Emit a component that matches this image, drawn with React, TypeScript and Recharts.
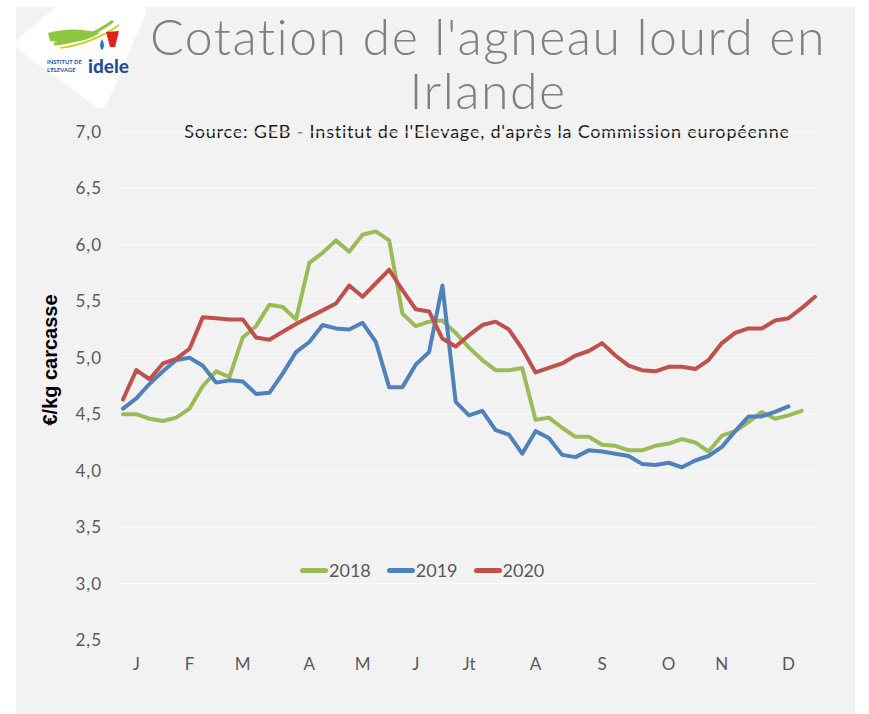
import { LineChart, Line, XAxis, YAxis, CartesianGrid } from 'recharts';

const weeks = [
  1, 2, 3, 4, 5, 6, 7, 8, 9, 10, 11, 12, 13, 14, 15, 16, 17, 18, 19, 20, 21, 22, 23, 24, 25, 26,
  27, 28, 29, 30, 31, 32, 33, 34, 35, 36, 37, 38, 39, 40, 41, 42, 43, 44, 45, 46, 47, 48, 49, 50,
  51, 52, 53,
];

const monthLabels = ['J', 'F', 'M', 'A', 'M', 'J', 'Jt', 'A', 'S', 'O', 'N', 'D'];
const monthTickWeeks = [2, 6, 10, 15, 19, 23, 27, 32, 37, 42, 46, 51];

const yTicks = [2.5, 3.0, 3.5, 4.0, 4.5, 5.0, 5.5, 6.0, 6.5, 7.0];

const cotation2018 = [
  4.5, 4.5, 4.46, 4.44, 4.47, 4.55, 4.75, 4.88, 4.83, 5.18, 5.28, 5.47, 5.45, 5.34, 5.84, 5.93,
  6.04, 5.94, 6.09, 6.12, 6.04, 5.39, 5.28, 5.32, 5.33, 5.22, 5.09, 4.98, 4.89, 4.89, 4.91, 4.45,
  4.47, 4.38, 4.3, 4.3, 4.23, 4.22, 4.18, 4.18, 4.22, 4.24, 4.28, 4.25, 4.17, 4.31, 4.35, 4.43,
  4.52, 4.46, 4.49, 4.53,
];

const cotation2019 = [
  4.55, 4.64, 4.77, 4.88, 4.98, 5.0, 4.93, 4.78, 4.8, 4.79, 4.68, 4.69, 4.86, 5.05, 5.14, 5.29,
  5.26, 5.25, 5.31, 5.14, 4.74, 4.74, 4.94, 5.05, 5.64, 4.61, 4.49, 4.53, 4.36, 4.32, 4.15, 4.35,
  4.29, 4.14, 4.12, 4.18, 4.17, 4.15, 4.13, 4.06, 4.05, 4.07, 4.03, 4.09, 4.13, 4.21, 4.35, 4.48,
  4.48, 4.52, 4.57,
];

const cotation2020 = [
  4.63, 4.89, 4.81, 4.95, 4.99, 5.08, 5.36, 5.35, 5.34, 5.34, 5.18, 5.16, 5.23, 5.3, 5.36, 5.42,
  5.48, 5.64, 5.54, 5.66, 5.78, 5.6, 5.43, 5.41, 5.17, 5.1, 5.2, 5.29, 5.32, 5.25, 5.08, 4.87,
  4.91, 4.95, 5.02, 5.06, 5.13, 5.02, 4.93, 4.89, 4.88, 4.92, 4.92, 4.9, 4.98, 5.13, 5.22, 5.26,
  5.26, 5.33, 5.35, 5.44, 5.54,
];

const data = weeks.map((w, i) => ({
  week: w,
  y2018: cotation2018[i],
  y2019: cotation2019[i],
  y2020: cotation2020[i],
}));

const GREEN = '#9bbb59';
const BLUE = '#4f81bd';
const RED = '#c0504d';
const FONT = 'Lato, "Open Sans", sans-serif';

const legendItems = [
  { label: '2018', color: GREEN },
  { label: '2019', color: BLUE },
  { label: '2020', color: RED },
];

function Logo() {
  return (
    <svg width={150} height={115} style={{ position: 'absolute', left: 0, top: 0 }}>
      <path
        d="M24 44 L62 12 L138 11 L100 100 Z"
        fill="#ffffff"
        stroke="#ffffff"
        strokeWidth={16}
        strokeLinejoin="round"
      />
      <path d="M48 33 Q72 26 100 33 Q80 46 50 41 Z" fill="#8dc63f" />
      <path d="M54 44 Q84 42 113 21" stroke="#8dc63f" strokeWidth={3} fill="none" />
      <path d="M60 48 Q92 44 119 25" stroke="#c8d400" strokeWidth={1.6} fill="none" />
      <path d="M106 32 L119 31 L115 47 L110 47 Z" fill="#e2231a" />
      <path d="M102 39 Q98 46 102 50 Q106 46 102 39 Z" fill="#2a6ebb" />
      <text x={47} y={64} fontSize={5.8} fontFamily={FONT} fontWeight={700} fill="#1f4e9c">
        INSTITUT DE
      </text>
      <text x={47} y={72} fontSize={5.8} fontFamily={FONT} fontWeight={700} fill="#1f4e9c">
        L'ELEVAGE
      </text>
      <text x={88} y={73} fontSize={19} fontFamily={FONT} fontWeight={900} fill="#1f4e9c">
        idele
      </text>
    </svg>
  );
}

export default function App() {
  return (
    <div style={{ position: 'absolute', left: 0, top: 0, width: 869, height: 714, background: '#ffffff' }}>
      <div style={{ position: 'absolute', left: 16, top: 7, width: 839, height: 707, background: '#f2f2f2' }} />
      <Logo />
      <div
        style={{
          position: 'absolute',
          left: 140,
          width: 696,
          top: 9,
          textAlign: 'center',
          fontFamily: FONT,
          fontWeight: 300,
          fontSize: 50,
          letterSpacing: 1.5,
          lineHeight: '54px',
          color: '#7f7f7f',
        }}
      >
        Cotation de l'agneau lourd en
        <br />
        Irlande
      </div>
      <div
        style={{
          position: 'absolute',
          left: 0,
          width: 974,
          top: 120,
          textAlign: 'center',
          fontFamily: FONT,
          fontSize: 18,
          letterSpacing: 0.8,
          color: '#1a1a1a',
        }}
      >
        Source: GEB - Institut de l'Elevage, d'après la Commission européenne
      </div>
      <div
        style={{
          position: 'absolute',
          left: 50,
          top: 360,
          transform: 'translate(-50%, -50%) rotate(-90deg)',
          whiteSpace: 'nowrap',
          fontFamily: '"Liberation Sans", Arial, sans-serif',
          fontWeight: 700,
          fontSize: 20,
          color: '#000000',
        }}
      >
        €/kg carcasse
      </div>
      <div style={{ position: 'absolute', left: 0, top: 0 }}>
        <LineChart width={869} height={714} data={data} margin={{ top: 132, right: 50, bottom: 44, left: 57 }}>
          <CartesianGrid horizontal={true} vertical={false} stroke="#fafafa" strokeWidth={1.2} />
          <XAxis
            dataKey="week"
            type="number"
            domain={[0.55, 53.3]}
            ticks={monthTickWeeks}
            tickFormatter={(v: number) => monthLabels[monthTickWeeks.indexOf(v)]}
            axisLine={false}
            tickLine={false}
            tickSize={0}
            tickMargin={18}
            height={30}
            interval={0}
            tick={{ fill: '#595959', fontSize: 17, fontFamily: FONT }}
          />
          <YAxis
            type="number"
            domain={[2.5, 7]}
            ticks={yTicks}
            tickFormatter={(v: number) => v.toFixed(1).replace('.', ',')}
            axisLine={false}
            tickLine={false}
            tickSize={0}
            tickMargin={15}
            width={60}
            interval={0}
            tick={{ fill: '#595959', fontSize: 17, fontFamily: FONT, letterSpacing: 1 }}
          />
          <Line
            dataKey="y2018"
            stroke={GREEN}
            strokeWidth={4}
            dot={false}
            strokeLinejoin="round"
            strokeLinecap="round"
            isAnimationActive={false}
          />
          <Line
            dataKey="y2019"
            stroke={BLUE}
            strokeWidth={4}
            dot={false}
            strokeLinejoin="round"
            strokeLinecap="round"
            isAnimationActive={false}
          />
          <Line
            dataKey="y2020"
            stroke={RED}
            strokeWidth={4}
            dot={false}
            strokeLinejoin="round"
            strokeLinecap="round"
            isAnimationActive={false}
          />
        </LineChart>
      </div>
      <div
        style={{
          position: 'absolute',
          left: 300,
          top: 559,
          display: 'flex',
          alignItems: 'center',
          fontFamily: FONT,
          fontSize: 18,
          color: '#595959',
        }}
      >
        {legendItems.map((item) => (
          <div key={item.label} style={{ display: 'flex', alignItems: 'center', marginRight: 16 }}>
            <div style={{ width: 28, height: 5, borderRadius: 3, background: item.color }} />
            <span style={{ marginLeft: 1 }}>{item.label}</span>
          </div>
        ))}
      </div>
    </div>
  );
}
